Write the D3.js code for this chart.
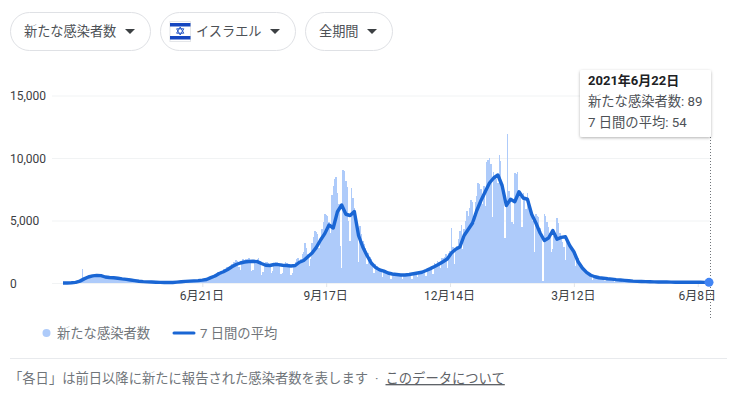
<!DOCTYPE html>
<html lang="ja">
<head>
<meta charset="utf-8">
<script src="https://cdn.jsdelivr.net/npm/d3@7"></script>
<style>
    html, body { margin: 0; padding: 0; background: #fff; overflow: hidden; }
    text { font-family: Roboto, "Noto Sans CJK JP", sans-serif; }
</style>
</head>
<body>
<div id="chart"></div>
<script>
// daily new cases
const newCases = [
    0,5,0,10,15,10,20,30,40,50,
    70,110,170,230,1120,330,400,480,520,560,
    590,640,560,620,600,650,640,610,590,540,
    500,470,440,450,430,440,400,390,410,370,
    360,340,330,310,300,280,250,240,230,210,
    190,180,160,140,130,120,110,100,95,90,
    85,80,75,70,65,60,60,55,50,50,
    45,45,40,40,45,40,35,40,45,45,
    55,65,80,90,105,115,125,130,140,150,
    155,165,170,175,185,190,195,210,220,230,
    260,280,340,400,470,500,560,650,720,640,
    850,900,980,760,1100,1150,1250,1320,1050,1400,
    1550,1650,1700,1840,1750,1250,1040,1650,1900,1850,
    1900,1950,2000,1800,1000,1050,1700,1850,1950,2000,
    1750,640,850,1450,1650,1680,1600,1550,800,950,
    1600,1700,1650,1550,1500,750,820,1500,1650,1600,
    1500,1450,650,800,1500,1700,1950,2000,1700,1950,
    2300,2500,3200,2800,2300,1400,1900,3200,3700,4160,
    4100,3950,2800,3300,4300,4900,5500,5450,5360,4900,
    4000,7040,7800,8300,8500,7200,6300,3000,1200,9040,
    9000,8200,7700,5000,3400,7600,6800,6000,5200,4800,
    1700,4600,3900,3400,3100,2800,1500,2400,2100,1900,
    1600,800,1500,1400,1200,1100,1000,500,1050,950,
    900,850,800,350,800,750,700,700,650,650,
    620,300,650,640,680,650,640,700,350,760,
    800,850,450,820,880,950,1000,1050,550,1150,
    1200,1300,1400,700,1600,1500,1750,1700,1200,2000,
    2000,2100,2300,1200,2400,2600,4400,2900,1500,2600,
    3000,3500,4160,4640,2700,4300,5000,5760,5400,6000,
    6640,6500,4800,6500,7000,8000,7900,7500,6300,7800,
    6200,9680,9840,10000,9500,5280,8900,8600,8300,8000,
    10240,9800,8000,7000,3600,6500,11900,7400,6800,4900,
    4700,8800,8700,8900,7000,6900,4500,7200,6800,5900,
    7200,6600,5800,5900,5000,2480,5500,5400,5300,4400,
    3800,150,5500,5400,4900,4500,4000,2500,2700,3800,
    4000,5200,4800,4000,3500,3300,2900,1840,3500,3300,
    3100,2900,2700,2500,1400,2200,2000,1800,1500,1400,
    1000,900,800,700,600,550,250,500,450,420,
    400,380,360,340,320,150,300,280,280,260,
    250,240,110,230,220,200,190,180,90,170,
    160,150,140,130,70,120,110,100,100,95,
    60,90,120,100,95,90,85,85,50,80,
    85,80,75,70,40,70,65,70,60,70,
    65,35,60,55,60,55,50,55,25,55,
    50,45,60,55,30,50,45,50,55,50,
    55,50,60,55,50,45,50,55,60,89
];

// 7 day average, one reading every third day
const avgStep = 3;
const avgCases = [
    0,0,20,50,150,330,480,570,610,590,
    480,440,420,380,330,290,240,190,140,110,
    90,75,60,50,45,40,45,70,100,130,
    150,170,190,230,280,430,560,760,900,1080,
    1300,1480,1600,1680,1720,1740,1710,1560,1420,1400,
    1480,1470,1420,1400,1360,1400,1660,1800,2100,2400,
    2850,3440,3950,4640,4400,5700,6240,5500,5400,5720,
    3800,2880,2200,1600,1250,1050,950,800,720,680,
    640,640,680,740,800,860,1000,1150,1320,1500,
    1700,1920,2400,2700,2880,3800,4300,4800,5800,6600,
    7300,8000,8400,8640,7800,6200,6700,6500,7300,6800,
    6700,5500,4800,4000,3400,3600,4200,3500,3650,3700,
    3000,2500,1700,1200,850,620,500,420,380,340,
    310,270,240,210,180,150,130,120,110,100,
    90,85,80,75,70,65,60,60,58,58,
    56,55,54,54
];

const yTicks = [0, 5000, 10000, 15000];
const xTickDays = [99, 187, 275, 363, 451];
const xTickLabels = ["6月21日", "9月17日", "12月14日", "3月12日", "6月8日"];

const chips = [
    { x: 10, w: 141, label: "新たな感染者数", textX: 24, arrowX: 130 },
    { x: 160, w: 136, label: "イスラエル", textX: 196, arrowX: 275 },
    { x: 305, w: 88, label: "全期間", textX: 319, arrowX: 372 }
];
const barColour = "#aecbfa";
const lineColour = "#1a66d4";
const bodyFont = "13.3px";

const svg = d3.select("#chart").append("svg")
    .attr("width", 740)
    .attr("height", 394);

const x = d3.scaleLinear().domain([0, newCases.length - 1]).range([63, 709]);
const y = d3.scaleLinear().domain([0, 15000]).range([283, 95.5]);

// filter chips
const chip = svg.selectAll(".chip").data(chips).enter().append("g").attr("class", "chip");
chip.append("rect")
    .attr("x", d => d.x + 0.5)
    .attr("y", 12.5)
    .attr("width", d => d.w - 1)
    .attr("height", 38)
    .attr("rx", 19)
    .attr("fill", "#fff")
    .attr("stroke", "#dfe1e5");
chip.append("text")
    .attr("x", d => d.textX)
    .attr("y", 36)
    .attr("font-size", "13.2px")
    .attr("fill", "#4d5156")
    .text(d => d.label);
chip.append("path")
    .attr("d", d => "M" + (d.arrowX - 5) + ",29 L" + (d.arrowX + 5) + ",29 L" + d.arrowX + ",34 Z")
    .attr("fill", "#3c4043");

// flag
const flag = svg.append("g");
flag.append("rect").attr("x", 170).attr("y", 21.5).attr("width", 20.5).attr("height", 20)
    .attr("fill", "#fff").attr("stroke", "#e4e6e9");
flag.append("rect").attr("x", 170).attr("y", 23).attr("width", 20.5).attr("height", 3.5).attr("fill", "#1546c0");
flag.append("rect").attr("x", 170).attr("y", 36).attr("width", 20.5).attr("height", 3.5).attr("fill", "#1546c0");
flag.append("path").attr("d", "M180.2,27 L183.8,33.2 L176.6,33.2 Z M180.2,35 L183.8,28.8 L176.6,28.8 Z")
    .attr("fill", "none").attr("stroke", "#2a5bc8").attr("stroke-width", 1);

// y axis, labels sit left aligned at the edge of the card
const yAxis = svg.append("g")
    .attr("transform", "translate(52,0)")
    .call(d3.axisLeft(y).tickValues(yTicks).tickSize(0).tickFormat(d3.format(",")));
yAxis.select(".domain").remove();
yAxis.selectAll("text")
    .attr("x", -42)
    .attr("dy", "0.36em")
    .attr("text-anchor", "start")
    .attr("font-size", "12px")
    .attr("font-family", null)
    .attr("fill", "#3c4043");
yAxis.selectAll(".tick line")
    .attr("x2", 658)
    .attr("stroke", "#f1f3f4");

// bars, crisp so neighbouring days close up into a solid area
svg.append("g")
    .attr("shape-rendering", "crispEdges")
    .selectAll("rect").data(newCases).enter().append("rect")
    .attr("x", (d, i) => x(i) - 0.7)
    .attr("y", d => y(d))
    .attr("width", 1.45)
    .attr("height", d => y(0) - y(d))
    .attr("fill", barColour);

// x axis
const xAxis = svg.append("g")
    .attr("transform", "translate(0,283)")
    .call(d3.axisBottom(x).tickValues(xTickDays).tickSize(4).tickPadding(4)
        .tickFormat((d, i) => xTickLabels[i]));
xAxis.select(".domain").remove();
xAxis.selectAll(".tick line").attr("stroke", "#e3e5e8");
xAxis.selectAll("text")
    .attr("x", -1)
    .attr("font-size", "12px")
    .attr("font-family", null)
    .attr("fill", "#3c4043");

// average line
const avgLine = d3.line()
    .x((d, i) => x(i * avgStep))
    .y(d => y(d))
    .curve(d3.curveLinear);
svg.append("path")
    .datum(avgCases)
    .attr("d", avgLine)
    .attr("fill", "none")
    .attr("stroke", lineColour)
    .attr("stroke-width", 3.4)
    .attr("stroke-linejoin", "round");
svg.append("line")
    .attr("x1", x(avgStep * (avgCases.length - 1)))
    .attr("x2", x(newCases.length - 1))
    .attr("y1", y(54))
    .attr("y2", y(54))
    .attr("stroke", lineColour)
    .attr("stroke-width", 3.4);

// hover marker
svg.append("line")
    .attr("x1", 710.5).attr("x2", 710.5)
    .attr("y1", 137).attr("y2", 320)
    .attr("stroke", "#70757a")
    .attr("stroke-dasharray", "1,2");
svg.append("circle")
    .attr("cx", x(newCases.length - 1))
    .attr("cy", y(54))
    .attr("r", 4.5)
    .attr("fill", "#4285f4");

// tooltip
const shadow = svg.append("defs").append("filter")
    .attr("id", "tipShadow")
    .attr("x", "-10%").attr("y", "-10%").attr("width", "120%").attr("height", "125%");
shadow.append("feDropShadow")
    .attr("dx", 0).attr("dy", 1).attr("stdDeviation", 1.5)
    .attr("flood-color", "#000").attr("flood-opacity", 0.3);
svg.append("rect")
    .attr("x", 580).attr("y", 70)
    .attr("width", 131).attr("height", 67)
    .attr("rx", 2)
    .attr("fill", "#fff")
    .attr("filter", "url(#tipShadow)");
svg.append("text").attr("x", 588).attr("y", 85)
    .attr("font-size", "13px").attr("font-weight", 700).attr("fill", "#202124")
    .text("2021年6月22日");
svg.append("text").attr("x", 588).attr("y", 106)
    .attr("font-size", bodyFont).attr("fill", "#4d5156")
    .text("新たな感染者数: 89");
svg.append("text").attr("x", 588).attr("y", 127)
    .attr("font-size", bodyFont).attr("fill", "#4d5156")
    .text("7 日間の平均: 54");

// legend
svg.append("circle").attr("cx", 46.5).attr("cy", 333).attr("r", 4).attr("fill", barColour);
svg.append("text").attr("x", 57).attr("y", 338)
    .attr("font-size", bodyFont).attr("fill", "#70757a").text("新たな感染者数");
svg.append("line").attr("x1", 174).attr("x2", 194).attr("y1", 333).attr("y2", 333)
    .attr("stroke", lineColour).attr("stroke-width", 3).attr("stroke-linecap", "round");
svg.append("text").attr("x", 200).attr("y", 338)
    .attr("font-size", bodyFont).attr("fill", "#70757a").text("7 日間の平均");

// footer
svg.append("line").attr("x1", 10).attr("x2", 727).attr("y1", 358.5).attr("y2", 358.5)
    .attr("stroke", "#e8eaed");
svg.append("text").attr("x", 9).attr("y", 383)
    .attr("font-size", bodyFont).attr("fill", "#70757a")
    .text("「各日」は前日以降に新たに報告された感染者数を表します");
svg.append("text").attr("x", 375).attr("y", 383)
    .attr("font-size", bodyFont).attr("fill", "#70757a").text("·");
svg.append("text").attr("x", 385.5).attr("y", 383)
    .attr("font-size", bodyFont).attr("fill", "#5f6368")
    .attr("text-decoration", "underline")
    .text("このデータについて");
</script>
</body>
</html>
